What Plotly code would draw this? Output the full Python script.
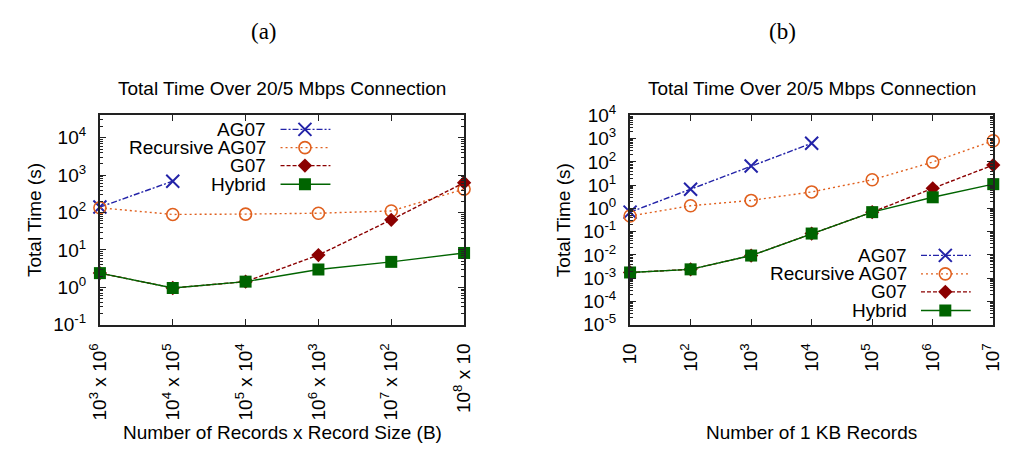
import plotly.graph_objects as go

# ---- data -------------------------------------------------------------
series_names = ["AG07", "Recursive AG07", "G07", "Hybrid"]

# (a) record count x record size (bytes), total 1 GB
size_labels = [
    "10<sup>3</sup> x 10<sup>6</sup>",
    "10<sup>4</sup> x 10<sup>5</sup>",
    "10<sup>5</sup> x 10<sup>4</sup>",
    "10<sup>6</sup> x 10<sup>3</sup>",
    "10<sup>7</sup> x 10<sup>2</sup>",
    "10<sup>8</sup> x 10",
]
a_ag07 = [140, 690]
a_recursive = [134, 89, 91, 96, 110, 424]
a_g07 = [2.4, 0.96, 1.42, 7.3, 64, 630]
a_hybrid = [2.4, 0.96, 1.42, 3.0, 4.8, 8.3]

# (b) number of 1 KB records
b_records = [10, 100, 1000, 10000, 100000, 1000000, 10000000]
b_record_labels = ["10", "10<sup>2</sup>", "10<sup>3</sup>", "10<sup>4</sup>",
                   "10<sup>5</sup>", "10<sup>6</sup>", "10<sup>7</sup>"]
b_ag07 = [0.69, 6.6, 66, 630]
b_recursive = [0.47, 1.3, 2.2, 5.1, 17, 98, 805]
b_g07 = [0.00176, 0.0024, 0.0094, 0.083, 0.69, 7.3, 73]
b_hybrid = [0.00176, 0.0024, 0.0094, 0.083, 0.69, 3.0, 11]

a_exponents = [-1, 0, 1, 2, 3, 4]
b_exponents = [-5, -4, -3, -2, -1, 0, 1, 2, 3, 4]

# ---- styles -----------------------------------------------------------
FONT = "Liberation Sans, Arial, Helvetica, sans-serif"
FS = 19
W, H = 1014, 457

BLUE, ORANGE, RED, GREEN = "#2323a8", "#e0601e", "#8b0000", "#006400"

styles = {
    "AG07": dict(color=BLUE, dash="6px,2px,2px,2px",
                 marker=dict(symbol="x-thin-open", size=13, color=BLUE,
                             line=dict(width=2, color=BLUE))),
    "Recursive AG07": dict(color=ORANGE, dash="2px,3px",
                           marker=dict(symbol="circle-open", size=12,
                                       color=ORANGE,
                                       line=dict(width=1.6, color=ORANGE))),
    "G07": dict(color=RED, dash="4px,2px",
                marker=dict(symbol="diamond", size=11, color=RED,
                            line=dict(width=0))),
    "Hybrid": dict(color=GREEN, dash="solid",
                   marker=dict(symbol="square", size=12, color=GREEN,
                               line=dict(width=0))),
}


def px_x(p):
    return p / W


def px_y(p):
    return 1 - p / H


# plot-area boxes (pixels): left, right, top, bottom
box_a = (88, 461, 108, 329)
box_b = (631, 1003, 108, 329)

fig = go.Figure()


def add_series(name, xs, ys, xaxis, yaxis):
    st = styles[name]
    fig.add_trace(go.Scatter(
        x=xs, y=ys, name=name, mode="lines+markers",
        line=dict(color=st["color"], dash=st["dash"], width=1.4),
        marker=st["marker"], xaxis=xaxis, yaxis=yaxis, showlegend=False,
        cliponaxis=False,
    ))


a_x = list(range(len(size_labels)))
add_series("AG07", a_x[:len(a_ag07)], a_ag07, "x", "y")
add_series("Recursive AG07", a_x, a_recursive, "x", "y")
add_series("G07", a_x, a_g07, "x", "y")
add_series("Hybrid", a_x, a_hybrid, "x", "y")

add_series("AG07", b_records[:len(b_ag07)], b_ag07, "x2", "y2")
add_series("Recursive AG07", b_records, b_recursive, "x2", "y2")
add_series("G07", b_records, b_g07, "x2", "y2")
add_series("Hybrid", b_records, b_hybrid, "x2", "y2")


# ---- key drawn inside each panel (text right-aligned, sample on the right)
def add_key(xaxis, yaxis, text_right, line_x0, line_x1, mark_x, rows):
    for name, fy in zip(series_names, rows):
        st = styles[name]
        fig.add_trace(go.Scatter(
            x=[line_x0, line_x1], y=[fy, fy], mode="lines",
            line=dict(color=st["color"], dash=st["dash"], width=1.4),
            xaxis=xaxis, yaxis=yaxis, showlegend=False, hoverinfo="skip"))
        fig.add_trace(go.Scatter(
            x=[mark_x], y=[fy], mode="markers", marker=st["marker"],
            xaxis=xaxis, yaxis=yaxis, showlegend=False, hoverinfo="skip"))
        fig.add_annotation(
            x=text_right, y=fy, xref=xaxis, yref=yaxis, text=name,
            showarrow=False, xanchor="right", yanchor="middle",
            font=dict(family=FONT, size=FS, color="black"))


add_key("x3", "y3", 0.461, 0.496, 0.633, 0.563, [0.933, 0.846, 0.760, 0.671])
add_key("x4", "y4", 0.768, 0.801, 0.938, 0.868, [0.331, 0.243, 0.157, 0.068])

# ---- axes -------------------------------------------------------------
axis_common = dict(
    showline=True, linecolor="#222", linewidth=2, mirror="ticks",
    ticks="inside", ticklen=6, tickwidth=1, tickcolor="#222",
    showgrid=False, zeroline=False,
    tickfont=dict(family=FONT, size=FS, color="black"),
)


def minor_log(exps):
    vals = [k * 10.0 ** e for e in exps[:-1] for k in range(2, 10)]
    return dict(ticks="inside", ticklen=3, tickwidth=1, tickcolor="#222",
                tickmode="array", tickvals=vals, showgrid=False)


def dom(box):
    l, r, t, b = box
    return [px_x(l), px_x(r)], [px_y(b), px_y(t)]


xa_dom, ya_dom = dom(box_a)
xb_dom, yb_dom = dom(box_b)

fig.update_layout(
    xaxis=dict(**axis_common, domain=xa_dom, anchor="y", range=[0, 5],
               tickmode="array", tickvals=a_x, ticktext=size_labels,
               tickangle=-90, ticklabelstandoff=9),
    yaxis=dict(**axis_common, domain=ya_dom, anchor="x", type="log",
               range=[-1, 4.6], tickmode="array",
               tickvals=[10 ** e for e in a_exponents],
               ticktext=[f"10<sup>{e}</sup>" for e in a_exponents],
               minor=minor_log(a_exponents + [5]),
               ticklabelstandoff=8),
    xaxis2=dict(**axis_common, domain=xb_dom, anchor="y2", type="log",
                range=[1, 7], tickmode="array", tickvals=b_records,
                ticktext=b_record_labels, tickangle=-90, ticklabelstandoff=9),
    yaxis2=dict(**axis_common, domain=yb_dom, anchor="x2", type="log",
                range=[-5, 4], tickmode="array",
                tickvals=[10 ** e for e in b_exponents],
                ticktext=[f"10<sup>{e}</sup>" for e in b_exponents],
                minor=minor_log(b_exponents),
                ticklabelstandoff=8),
    xaxis3=dict(domain=xa_dom, anchor="y3", range=[0, 1], visible=False,
                overlaying="x"),
    yaxis3=dict(domain=ya_dom, anchor="x3", range=[0, 1], visible=False,
                overlaying="y"),
    xaxis4=dict(domain=xb_dom, anchor="y4", range=[0, 1], visible=False,
                overlaying="x2"),
    yaxis4=dict(domain=yb_dom, anchor="x4", range=[0, 1], visible=False,
                overlaying="y2"),
    width=W, height=H, margin=dict(l=0, r=0, t=0, b=0),
    paper_bgcolor="white", plot_bgcolor="rgba(0,0,0,0)",
    showlegend=False,
)

# ---- titles and panel labels -----------------------------------------
def add_text(text, x, y, size=FS, family=FONT, angle=0):
    fig.add_annotation(x=px_x(x), y=px_y(y), xref="paper", yref="paper",
                       text=text, showarrow=False, textangle=angle,
                       xanchor="center", yanchor="middle",
                       font=dict(family=family, size=size, color="black"))


SERIF = "Liberation Serif, Times New Roman, serif"
add_text("(a)", 256, 20, size=23, family=SERIF)
add_text("(b)", 787, 20, size=23, family=SERIF)

title = "Total Time Over 20/5 Mbps Connection"
add_text(title, 275, 80)
add_text(title, 817, 80)

add_text("Total Time (s)", 21, 219, angle=-90)
add_text("Total Time (s)", 563, 219, angle=-90)

add_text("Number of Records x Record Size (B)", 275, 443)
add_text("Number of 1 KB Records", 817, 443)

fig.write_html("out.html")
